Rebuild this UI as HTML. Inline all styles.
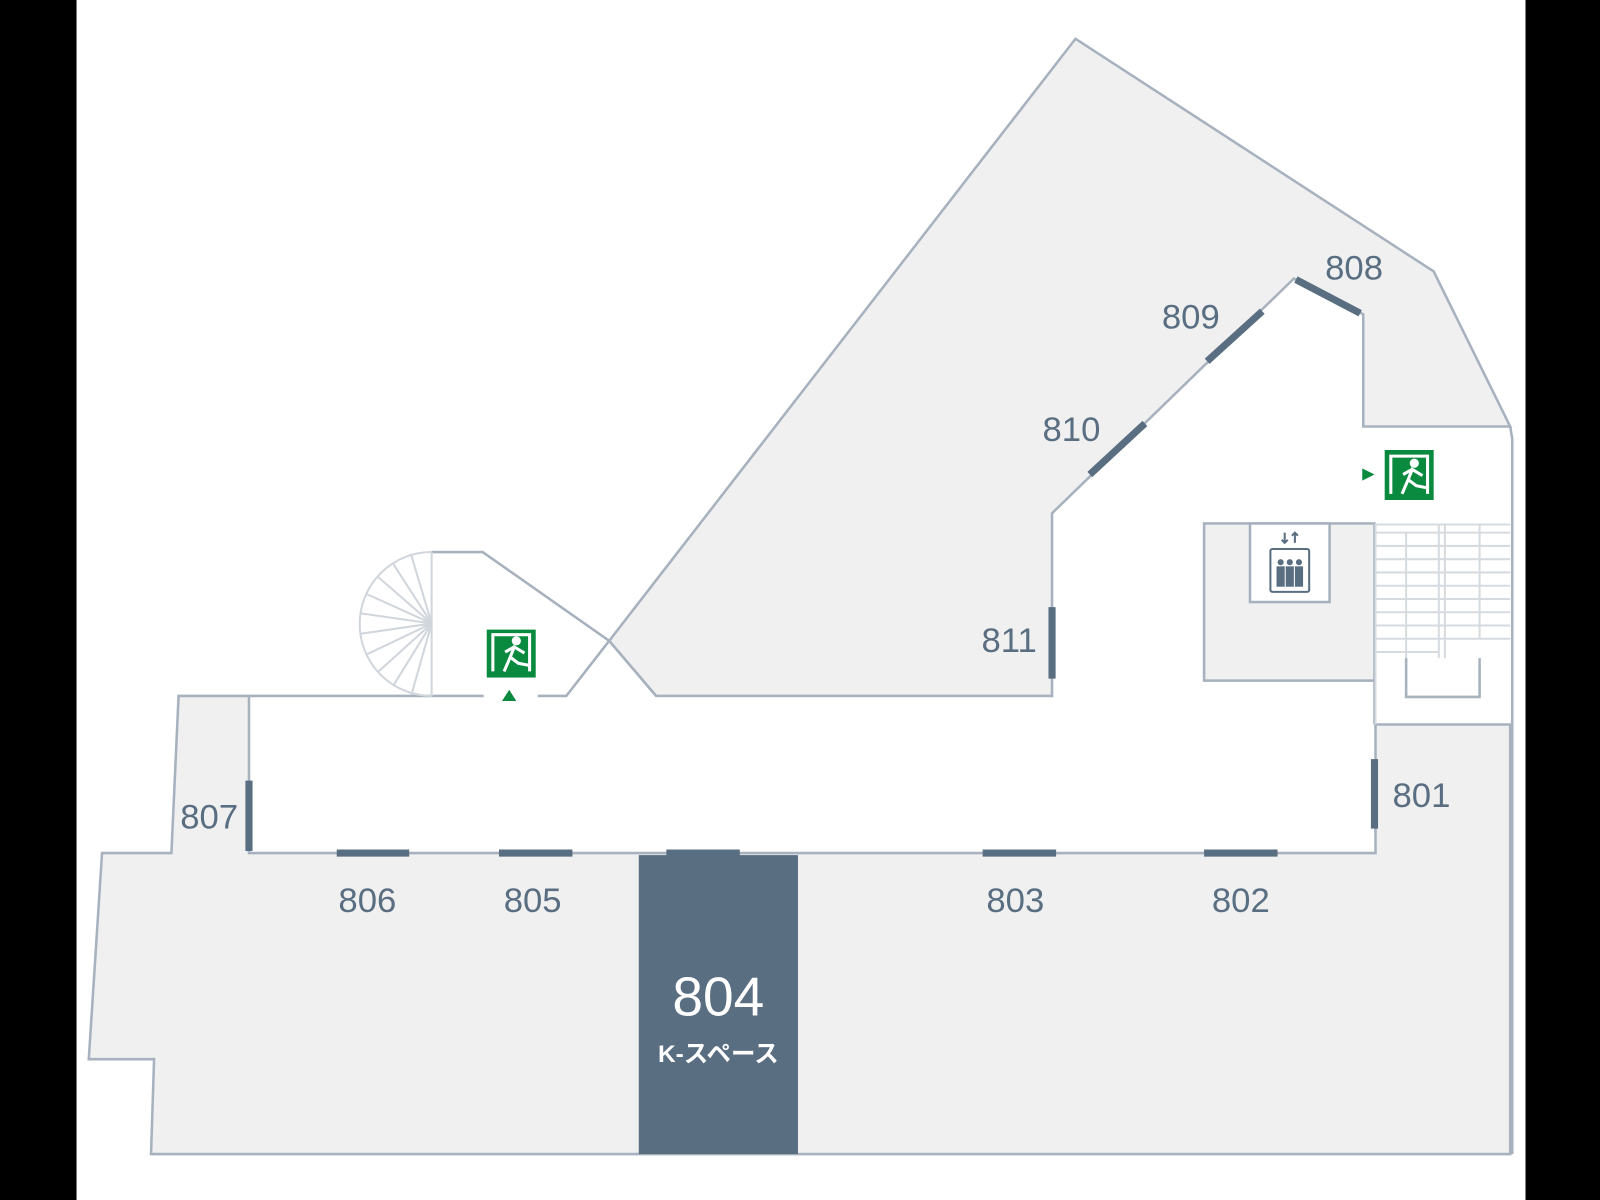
<!DOCTYPE html>
<html><head><meta charset="utf-8"><style>
html,body{margin:0;padding:0;background:#000;}
svg{display:block}
text{font-family:"Liberation Sans","Noto Sans CJK JP",sans-serif;fill:#5a6e82}
</style></head><body>
<svg width="1600" height="1200" viewBox="0 0 1568 1176" preserveAspectRatio="none" xmlns="http://www.w3.org/2000/svg">
<rect x="0" y="0" width="1568" height="1176" fill="#000"/>
<rect x="75" y="0" width="1420" height="1176" fill="#fff"/>
<g stroke="#a7b2be" stroke-width="2.5" fill="#f0f0f0">
<polygon points="597,628 1054,38 1405,266 1480,418 1336,418 1336,308 1268,273 1031,503 1031,682 643,682"/>
<polygon points="175,682 244,682 244,836 1348,836 1348,710 1480,710 1480,1131 148,1131 151,1038 87,1038 100,836 168,836"/>
<rect x="1180" y="513" width="167" height="154"/>
<rect x="1225" y="513" width="78" height="77" fill="#fff"/>
</g>
<g stroke="#a7b2be" stroke-width="2.5" fill="none">
<polyline points="474,682 244,682"/>
<polyline points="527,682 555,682 597,628"/>
<polyline points="423,541 473,541 597,628 643,682"/>
<polyline points="1480,418 1482,430 1482,1131"/>
<polyline points="1378,645 1378,683 1450,683 1450,645"/>
<line x1="1347" y1="667" x2="1347" y2="710"/>
</g>
<g stroke="#d6dbe0" stroke-width="2" fill="none">
<line x1="1347" y1="514" x2="1480" y2="514"/>
<line x1="1347" y1="522" x2="1480" y2="522"/><line x1="1347" y1="535" x2="1480" y2="535"/>
<line x1="1347" y1="548" x2="1480" y2="548"/><line x1="1347" y1="561" x2="1480" y2="561"/>
<line x1="1347" y1="574" x2="1480" y2="574"/><line x1="1347" y1="587" x2="1480" y2="587"/>
<line x1="1347" y1="600" x2="1480" y2="600"/><line x1="1347" y1="613" x2="1480" y2="613"/>
<line x1="1347" y1="626" x2="1480" y2="626"/><line x1="1347" y1="639" x2="1410" y2="639"/>
<line x1="1410" y1="513" x2="1410" y2="645"/><line x1="1416" y1="513" x2="1416" y2="645"/>
<line x1="1378" y1="522" x2="1378" y2="645"/><line x1="1450" y1="514" x2="1450" y2="626"/>
<line x1="1348" y1="513" x2="1348" y2="710"/>
</g>
<g stroke="#d0d6dc" stroke-width="2" fill="none">
<path d="M423,541 A70,70 0 0 0 423,682"/>
<line x1="423" y1="541" x2="423" y2="682"/>
<g transform="translate(423,611)">
<line x1="0" y1="0" x2="-20" y2="-67"/><line x1="0" y1="0" x2="-38" y2="-59"/>
<line x1="0" y1="0" x2="-53" y2="-46"/><line x1="0" y1="0" x2="-64" y2="-29"/>
<line x1="0" y1="0" x2="-70" y2="-10"/><line x1="0" y1="0" x2="-69" y2="10"/>
<line x1="0" y1="0" x2="-63" y2="30"/><line x1="0" y1="0" x2="-52" y2="47"/>
<line x1="0" y1="0" x2="-37" y2="60"/><line x1="0" y1="0" x2="-19" y2="67"/>
</g>
</g>
<rect x="626" y="838" width="156" height="293" fill="#5a6e82"/>
<g stroke="#5a6e82" stroke-width="7">
<line x1="330" y1="836" x2="401" y2="836"/><line x1="489" y1="836" x2="561" y2="836"/>
<line x1="653" y1="836" x2="725" y2="836"/><line x1="963" y1="836" x2="1035" y2="836"/>
<line x1="1180" y1="836" x2="1252" y2="836"/><line x1="1347" y1="744" x2="1347" y2="812"/>
<line x1="244" y1="765" x2="244" y2="834"/><line x1="1031" y1="595" x2="1031" y2="665"/>
<line x1="1068" y1="465" x2="1122" y2="415"/><line x1="1183" y1="354" x2="1237" y2="305"/>
<line x1="1270" y1="274" x2="1333" y2="307"/>
</g>
<g font-size="34" text-anchor="middle">
<text x="360" y="894">806</text><text x="522" y="894">805</text>
<text x="995" y="894">803</text><text x="1216" y="894">802</text>
<text x="1393" y="791">801</text><text x="205" y="812">807</text>
<text x="989" y="639">811</text><text x="1050" y="432">810</text>
<text x="1167" y="322">809</text><text x="1327" y="274">808</text>
</g>
<text x="704" y="995" font-size="54" text-anchor="middle" style="fill:#fff">804</text>
<text x="704" y="1041" font-size="24" font-weight="bold" text-anchor="middle" style="fill:#fff">K-スペース</text>
<g fill="#0a8a3e">
<rect x="477" y="617" width="48" height="47"/>
<polygon points="499,676 506,687 492,687"/>
<rect x="1357" y="441" width="48" height="49"/>
<polygon points="1335,459 1347,465 1335,471"/>
</g>
<g stroke="#fff" stroke-width="3" fill="none">
<path d="M483,658 L483,622 L519,622 L519,658"/>
<path d="M494,658 L500,644 L508,650 L518,652 M500,644 L504,634 L514,640 M504,634 L495,639"/>
<circle cx="506" cy="628" r="3" fill="#fff"/>
<path d="M1363,484 L1363,447 L1399,447 L1399,484"/>
<path d="M1374,484 L1380,470 L1388,476 L1398,478 M1380,470 L1384,460 L1394,466 M1384,460 L1375,465"/>
<circle cx="1386" cy="454" r="3" fill="#fff"/>
</g>
<g stroke="#5a6e82" stroke-width="2" fill="none">
<rect x="1245" y="538" width="38" height="42" rx="2"/>
<path d="M1259,522 L1259,532 M1256,529 L1259,532 L1262,529 M1269,532 L1269,522 M1266,525 L1269,522 L1272,525"/>
</g>
<g fill="#5a6e82">
<circle cx="1255" cy="551" r="3"/><circle cx="1264" cy="551" r="3"/><circle cx="1273" cy="551" r="3"/>
<rect x="1251" y="555" width="8" height="20"/><rect x="1260" y="555" width="8" height="20"/><rect x="1269" y="555" width="8" height="20"/>
</g>
</svg>
</body></html>
